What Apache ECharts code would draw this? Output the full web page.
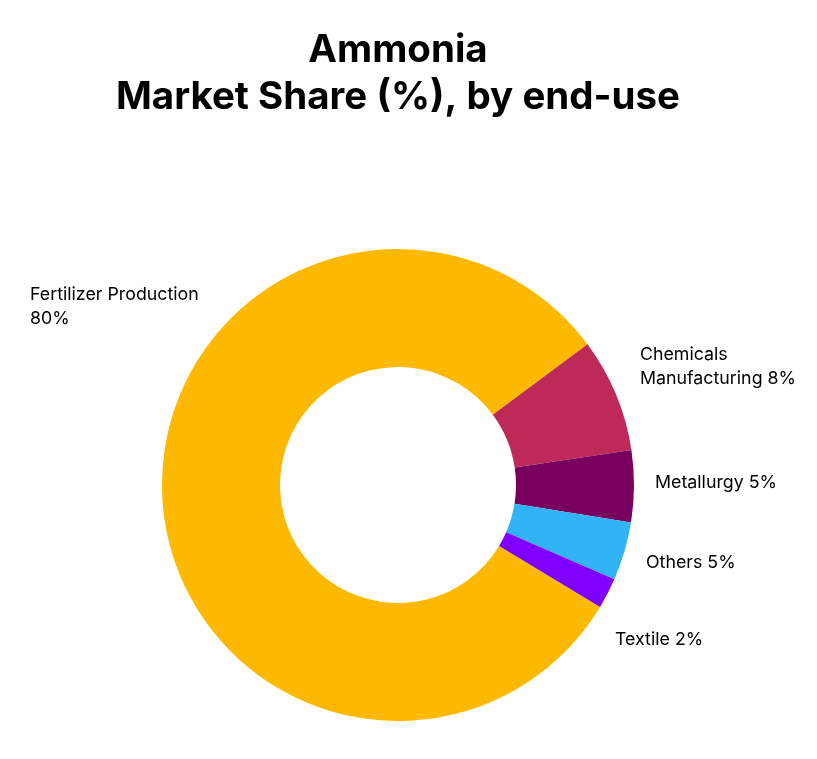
<!DOCTYPE html>
<html>
<head>
<meta charset="utf-8">
<script src="https://cdn.jsdelivr.net/npm/echarts@6/dist/echarts.min.js"></script>
<style>
  html, body { margin: 0; padding: 0; background: #fff; }
  #chart { width: 817px; height: 759px; }
</style>
</head>
<body>
<div id="chart"></div>
<script>
// slices, clockwise from the top-left edge of the big slice
const categories = ['Fertilizer Production', 'Chemicals Manufacturing', 'Metallurgy', 'Others', 'Textile']
const shares = [81.2, 7.8, 4.9, 4.0, 2.1]   // drawn size of each slice
const labelPct = [80, 8, 5, 5, 2]           // percent printed in the labels
const colors = ['#FDB900', '#BE2A58', '#78005E', '#31B4F6', '#8000FF']

// where each label sits (left edge, vertical middle)
const labelPos = [[30, 307], [640, 367], [655, 483], [646, 563], [615, 640]]

function labelText(i) {
  if (i === 0) return categories[0] + '\n' + labelPct[0] + '%'
  if (i === 1) return 'Chemicals\nManufacturing ' + labelPct[1] + '%'
  return categories[i] + ' ' + labelPct[i] + '%'
}

const chartIns = echarts.init(document.getElementById('chart'))
chartIns.setOption({
  animation: false,
  title: {
    text: 'Ammonia\nMarket Share (%), by end-use',
    left: 393,
    textAlign: 'center',
    top: 22,
    textStyle: {
      fontFamily: 'Inter',
      fontSize: 38.5,
      fontWeight: 700,
      lineHeight: 47,
      color: '#000'
    }
  },
  series: [
    {
      type: 'pie',
      center: [398, 485],
      radius: [118, 236],
      startAngle: 328.9,
      clockwise: true,
      avoidLabelOverlap: false,
      emphasis: { disabled: true },
      itemStyle: { borderWidth: 0 },
      label: {
        show: true,
        position: 'outside',
        fontFamily: 'Inter',
        fontSize: 17.8,
        lineHeight: 24,
        color: '#000',
        formatter: p => labelText(p.dataIndex)
      },
      labelLine: { show: false },
      labelLayout: function (params) {
        const p = labelPos[params.dataIndex]
        return { x: p[0], y: p[1], align: 'left', verticalAlign: 'middle' }
      },
      data: categories.map((name, i) => ({
        name,
        value: shares[i],
        itemStyle: { color: colors[i] }
      }))
    }
  ]
})
</script>
</body>
</html>
